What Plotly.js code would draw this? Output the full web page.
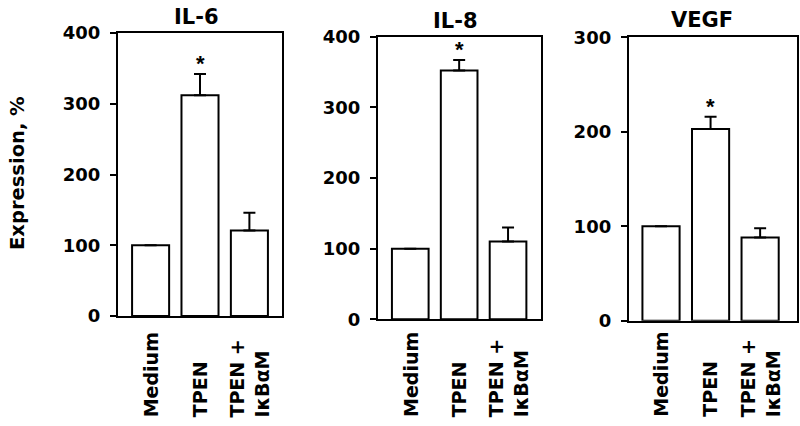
<!DOCTYPE html>
<html>
<head>
<meta charset="utf-8">
<script src="https://cdn.plot.ly/plotly-3.0.1.min.js"></script>
<style>
  html, body { margin: 0; padding: 0; background: #fff; }
  #chart { width: 800px; height: 426px; }
</style>
</head>
<body>
<div id="chart"></div>
<script>
// groups on the x axis (same for all three panels)
var categories = ['Medium', 'TPEN', 'TPEN +<br>I\u03baB\u03b1M'];

// expression, % of medium, with upward SEM
var il6 = [100, 312, 121];
var il6Err = [0, 30, 25];
var il8 = [100, 352, 110];
var il8Err = [0, 15, 20];
var vegf = [100, 203, 88];
var vegfErr = [0, 13, 10];

var panelTitles = ['IL-6', 'IL-8', 'VEGF'];
var yMax = [400, 400, 300];
var starAt = 'TPEN';

var black = '#000';

function barTrace(vals, errs, n) {
    return {
        x: categories,
        y: vals,
        type: 'bar',
        width: 0.75,
        xaxis: 'x' + (n === 1 ? '' : n),
        yaxis: 'y' + (n === 1 ? '' : n),
        marker: {color: '#fff', line: {color: black, width: 2}},
        error_y: {
            type: 'data',
            array: errs,
            arrayminus: errs.map(function () { return 0; }),
            symmetric: false,
            color: black,
            thickness: 2,
            width: 6
        },
        hoverinfo: 'none'
    };
}

var traces = [
    barTrace(il6, il6Err, 1),
    barTrace(il8, il8Err, 2),
    barTrace(vegf, vegfErr, 3)
];

function xAxis(domain, range, anchor) {
    return {
        domain: domain,
        range: range,
        anchor: anchor,
        type: 'category',
        showline: true, mirror: true, linecolor: black, linewidth: 2,
        showgrid: false, zeroline: false,
        ticks: '',
        showticklabels: false   // labels drawn below as rotated annotations
    };
}

function yAxis(domain, top, anchor) {
    return {
        domain: domain,
        range: [0, top],
        anchor: anchor,
        dtick: 100,
        showline: true, mirror: true, linecolor: black, linewidth: 2,
        showgrid: false, zeroline: false,
        ticks: 'outside', ticklen: 6, tickwidth: 2, tickcolor: black,
        ticklabelstandoff: 6,
        tickfont: {family: 'DejaVu Sans', size: 18, weight: 'bold', color: black}
    };
}

var layout = {
    width: 800,
    height: 426,
    margin: {l: 0, r: 0, t: 0, b: 0},
    paper_bgcolor: '#fff',
    plot_bgcolor: '#fff',
    showlegend: false,
    xaxis: xAxis([0.1475, 0.3525], [-0.66, 2.66], 'y'),
    yaxis: yAxis([0.258, 0.9225], yMax[0], 'x'),
    xaxis2: xAxis([0.4725, 0.676], [-0.66, 2.67], 'y2'),
    yaxis2: yAxis([0.2505, 0.914], yMax[1], 'x2'),
    xaxis3: xAxis([0.786, 0.996], [-0.65, 2.74], 'y3'),
    yaxis3: yAxis([0.247, 0.9125], yMax[2], 'x3'),
    annotations: []
};

// panel titles
var titleX = [0.245, 0.57, 0.8775];
var titleY = [0.96, 0.951, 0.953];
panelTitles.forEach(function (t, i) {
    layout.annotations.push({
        text: t, xref: 'paper', yref: 'paper',
        x: titleX[i], y: titleY[i], xanchor: 'center', yanchor: 'middle',
        showarrow: false,
        font: {family: 'DejaVu Sans', size: 21, weight: 'bold', color: black}
    });
});

// category labels, rotated, bottom-aligned like the original figure
[1, 2, 3].forEach(function (p) {
    var n = p === 1 ? '' : p;
    categories.forEach(function (c) {
        layout.annotations.push({
            text: c, xref: 'x' + n, yref: 'paper',
            x: c, y: 0.016, xanchor: 'center', yanchor: 'bottom',
            textangle: -90, showarrow: false, align: 'left',
            font: {family: 'DejaVu Sans', size: 19, weight: 'bold', color: black}
        });
    });
});

// significance stars on TPEN bars
var sets = [[il6, il6Err], [il8, il8Err], [vegf, vegfErr]];
sets.forEach(function (s, i) {
    var k = categories.indexOf(starAt);
    var n = i === 0 ? '' : (i + 1);
    layout.annotations.push({
        text: '*', xref: 'x' + n, yref: 'y' + n,
        x: starAt, y: s[0][k] + s[1][k],
        xanchor: 'center', yanchor: 'bottom', yshift: -4,
        showarrow: false,
        font: {family: 'Liberation Sans', size: 22, weight: 'bold', color: black}
    });
});

// shared y axis title
layout.annotations.push({
    text: 'Expression, %', xref: 'paper', yref: 'paper',
    x: 0.0225, y: 0.594, xanchor: 'center', yanchor: 'middle',
    textangle: -90, showarrow: false,
    font: {family: 'DejaVu Sans', size: 19.5, weight: 'bold', color: black}
});

Plotly.newPlot('chart', traces, layout, {displayModeBar: false, staticPlot: true});
</script>
</body>
</html>
